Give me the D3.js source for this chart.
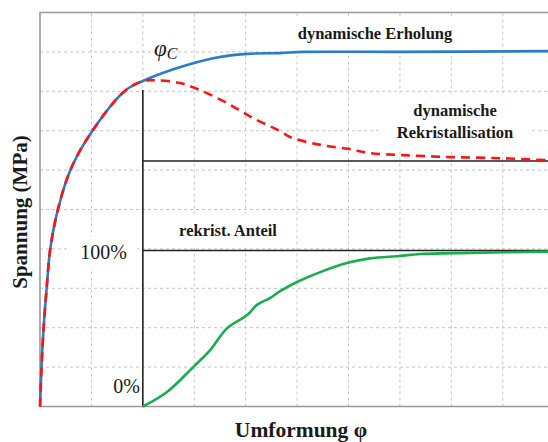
<!DOCTYPE html>
<html lang="de">
<head>
  <meta charset="UTF-8">
  <title>Spannung - Umformung</title>
  <script src="https://d3js.org/d3.v7.min.js"></script>
  <style>
    body { margin: 0; background: #fff; }
    svg { display: block; }
    .grid line { stroke: #c4c4c4; stroke-width: 1px; stroke-dasharray: 3,3; }
    .frame { stroke: #999; stroke-width: 1.6px; fill: none; }
    .curve { fill: none; stroke-width: 2.6px; }
    .ref { stroke: #222; stroke-width: 1.6px; }
    .lbl { font-family: "Liberation Serif", "Times New Roman", serif; fill: #1a1a1a; }
  </style>
</head>
<body>
<script>
// Umformung φ (grid units) and Spannung / Anteil values
const erholungX = [0, 0.03, 0.07, 0.13, 0.20, 0.35, 0.60, 1.03, 1.65, 2.0, 2.67, 3.37, 4.03, 4.67, 5.12, 7.0, 9.88];
const erholungY = [0, 1.0, 1.99, 3.01, 4.0, 5.01, 6.03, 7.02, 8.01, 8.26, 8.59, 8.84, 8.95, 8.97, 9.0, 9.0, 9.02];

const rekristX = [0, 0.03, 0.07, 0.13, 0.20, 0.35, 0.60, 1.03, 1.65, 2.0, 2.28, 2.72, 3.11, 3.64, 4.14, 4.67, 4.86, 5.45, 5.99, 6.42, 7.06, 7.98, 9.01, 9.88];
const rekristY = [0, 1.0, 1.99, 3.01, 4.0, 5.01, 6.03, 7.02, 8.01, 8.26, 8.28, 8.21, 8.03, 7.70, 7.32, 6.99, 6.84, 6.64, 6.54, 6.43, 6.38, 6.33, 6.30, 6.25];

const anteilX = [2.0, 2.47, 2.98, 3.31, 3.64, 4.03, 4.22, 4.47, 4.67, 5.0, 5.45, 5.97, 6.42, 7.0, 7.39, 8.37, 9.88];
const anteilY = [0, 0.37, 1.0, 1.43, 1.99, 2.32, 2.58, 2.75, 2.93, 3.16, 3.41, 3.64, 3.76, 3.82, 3.87, 3.9, 3.93];

const phiC = 2.0;             // kritische Umformung
const sigmaSS = 6.23;         // stationäre Spannung (DRX)
const anteilTop = 3.96;       // 100 % Linie
const gridX = [1, 2, 3, 4, 5, 6, 7, 8, 9];
const gridY = [1, 2, 3, 4, 5, 6, 7, 8, 9];
const anteilTicks = ["0%", "100%"];

const W = 548, H = 442;
const svg = d3.select("body").append("svg").attr("width", W).attr("height", H);

const x = d3.scaleLinear().domain([0, 9.88]).range([40, 548]);
const y = d3.scaleLinear().domain([0, 10]).range([406.5, 12.5]);

// grid
const grid = svg.append("g").attr("class", "grid");
grid.selectAll(".gx").data(gridX).enter().append("line")
  .attr("x1", d => x(d)).attr("x2", d => x(d)).attr("y1", y(0)).attr("y2", y(10));
grid.selectAll(".gy").data(gridY).enter().append("line")
  .attr("x1", x(0)).attr("x2", W).attr("y1", d => y(d)).attr("y2", d => y(d));

const boxes = svg.append("g");

// frame
svg.append("path").attr("class", "frame")
  .attr("d", `M${W},${y(10)}H${x(0)}V${y(0)}H${W}`);

// reference lines
svg.append("line").attr("class", "ref")
  .attr("x1", x(phiC)).attr("x2", x(phiC)).attr("y1", y(8.03)).attr("y2", y(0));
svg.append("line").attr("class", "ref")
  .attr("x1", x(phiC)).attr("x2", W).attr("y1", y(sigmaSS)).attr("y2", y(sigmaSS));
svg.append("line").attr("class", "ref")
  .attr("x1", x(phiC)).attr("x2", W).attr("y1", y(anteilTop)).attr("y2", y(anteilTop));

const line = d3.line().x(d => x(d[0])).y(d => y(d[1])).curve(d3.curveCatmullRom.alpha(0.5));

svg.append("path").attr("class", "curve")
  .attr("d", line(d3.zip(erholungX, erholungY)))
  .attr("stroke", "#2a7cc8");
svg.append("path").attr("class", "curve")
  .attr("d", line(d3.zip(rekristX, rekristY)))
  .attr("stroke", "#ff1414")
  .attr("stroke-dasharray", "9,6");
svg.append("path").attr("class", "curve")
  .attr("d", line(d3.zip(anteilX, anteilY)))
  .attr("stroke", "#19ad4e");

// labels
function label(tx, ty, text, opts) {
  const t = svg.append("text").attr("class", "lbl")
    .attr("x", tx).attr("y", ty)
    .attr("text-anchor", opts.anchor || "middle")
    .style("font-size", opts.size + "px")
    .style("font-weight", opts.bold ? "bold" : "normal");
  [].concat(text).forEach((s, i) => {
    t.append("tspan").attr("x", tx).attr("dy", i === 0 ? 0 : opts.lh).text(s);
  });
  const b = t.node().getBBox();
  const p = opts.pad || 6;
  boxes.append("rect").attr("x", b.x - p).attr("y", b.y - p / 2)
    .attr("width", b.width + 2 * p).attr("height", b.height + p)
    .attr("fill", "#fff");
  return t;
}

label(375, 39, "dynamische Erholung", { size: 16.5, bold: true, pad: 16 });
label(455, 116, ["dynamische", "Rekristallisation"], { size: 16.5, bold: true, lh: 22, pad: 16 });
label(228, 236, "rekrist. Anteil", { size: 16.5, bold: true, pad: 14 });
label(127, y(anteilTop) + 9, anteilTicks[1], { size: 20, anchor: "end", pad: 10 });
label(140, 393, anteilTicks[0], { size: 20, anchor: "end", pad: 10 });

const phi = svg.append("text").attr("class", "lbl")
  .attr("x", 154).attr("y", 56)
  .style("font-size", "23px").style("font-style", "italic");
phi.append("tspan").text("φ");
phi.append("tspan").attr("dy", 3).style("font-size", "16px").text("C");

svg.append("text").attr("class", "lbl")
  .attr("transform", "translate(27,212) rotate(-90)")
  .attr("text-anchor", "middle")
  .style("font-size", "21px").style("font-weight", "bold")
  .text("Spannung (MPa)");

svg.append("text").attr("class", "lbl")
  .attr("x", 301).attr("y", 437)
  .attr("text-anchor", "middle")
  .style("font-size", "21.5px").style("font-weight", "bold")
  .text("Umformung φ");
</script>
</body>
</html>
